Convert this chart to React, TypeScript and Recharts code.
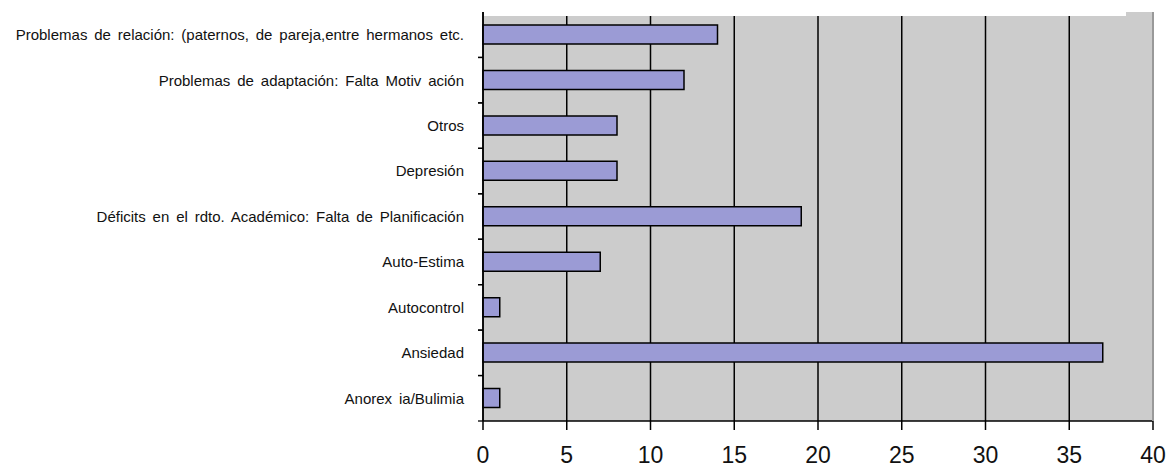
import React from "react";
import { BarChart, Bar, XAxis, YAxis, CartesianGrid } from "recharts";

const categories = [
  "Problemas de relación: (paternos, de pareja,entre hermanos etc.",
  "Problemas de adaptación: Falta Motiv ación",
  "Otros",
  "Depresión",
  "Déficits en el rdto. Académico: Falta de Planificación",
  "Auto-Estima",
  "Autocontrol",
  "Ansiedad",
  "Anorex ia/Bulimia",
];
const values = [14, 12, 8, 8, 19, 7, 1, 37, 1];
const xTicks = [0, 5, 10, 15, 20, 25, 30, 35, 40];

const data = categories.map((name, i) => ({ name, value: values[i] }));

const W = 1169;
const H = 470;
const M = { top: 12, right: 16, bottom: 0, left: 0 };
const Y_W = 483;
const X_H = 49;
const plotH = H - M.top - M.bottom - X_H;
const band = plotH / categories.length;

const YTick = (props: any) => {
  const { x, y, payload, index } = props;
  const ax = x + 19;
  return (
    <g>
      <text
        x={x}
        y={y}
        dy="0.36em"
        textAnchor="end"
        fontFamily="'Liberation Sans', Arial, sans-serif"
        fontSize={15}
        style={{ wordSpacing: "2.7px" }}
        fill="#111"
      >
        {payload.value}
      </text>
      {index > 0 && (
        <line x1={ax - 5} x2={ax} y1={y - band / 2} y2={y - band / 2} stroke="#000" strokeWidth={1.3} />
      )}
      <line x1={ax - 5} x2={ax} y1={y + band / 2} y2={y + band / 2} stroke="#000" strokeWidth={1.3} />
    </g>
  );
};

export default function App() {
  return (
    <div style={{ position: "absolute", left: 0, top: 0, width: W, height: H, background: "#fff" }}>
      <BarChart
        width={W}
        height={H}
        data={data}
        layout="vertical"
        margin={M}
        barCategoryGap={0}
      >
        <CartesianGrid
          horizontal={false}
          vertical={true}
          fill="#cccccc"
          stroke="#000"
          strokeWidth={1.5}
        />
        <XAxis
          type="number"
          domain={[0, 40]}
          ticks={xTicks}
          interval={0}
          height={X_H}
          tickSize={9}
          tickMargin={17}
          axisLine={{ stroke: "#000", strokeWidth: 1.5 }}
          tickLine={{ stroke: "#000", strokeWidth: 1.5 }}
          tick={{ fontSize: 23, fill: "#111", fontFamily: "'Liberation Sans', Arial, sans-serif" }}
        />
        <YAxis
          type="category"
          dataKey="name"
          width={Y_W}
          interval={0}
          tickSize={0}
          tickMargin={19}
          tickLine={false}
          axisLine={{ stroke: "#000", strokeWidth: 1.5 }}
          tick={<YTick />}
        />
        <Bar
          dataKey="value"
          barSize={19}
          fill="#9b9bd5"
          stroke="#000"
          strokeWidth={1.5}
          isAnimationActive={false}
        />
      </BarChart>
      <div
        style={{
          position: "absolute",
          left: 484,
          top: 0,
          width: 642,
          height: 16,
          background: "#fff",
        }}
      />
      <div
        style={{
          position: "absolute",
          left: 1152,
          top: 12,
          width: 1.5,
          height: 409,
          background: "#999",
        }}
      />
    </div>
  );
}
